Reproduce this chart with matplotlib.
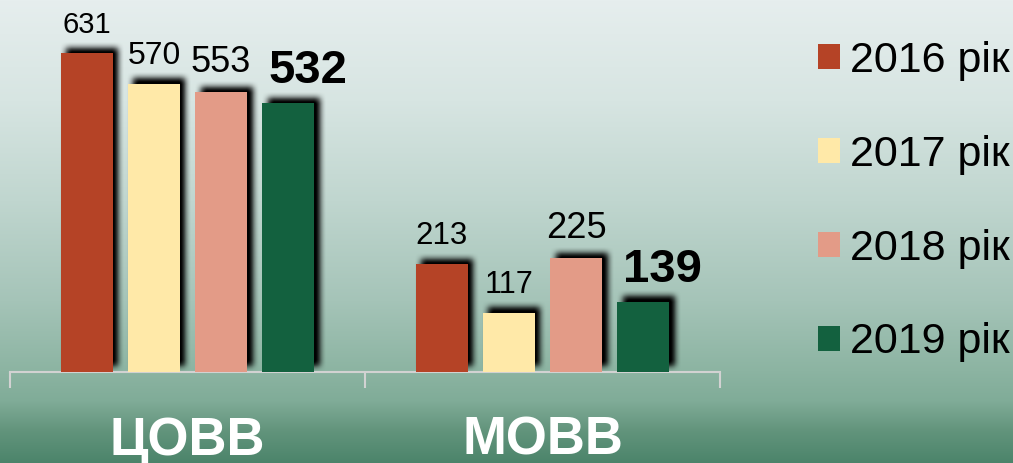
import numpy as np
import matplotlib
matplotlib.use("Agg")
import matplotlib.pyplot as plt
from matplotlib.patches import Patch

# дані
categories = ["ЦОВВ", "МОВВ"]
years = ["2016 рік", "2017 рік", "2018 рік", "2019 рік"]
v2016 = [631, 213]
v2017 = [570, 117]
v2018 = [553, 225]
v2019 = [532, 139]
colors = ["#b54326", "#ffe9a8", "#e39b87", "#13613f"]
# розмір шрифту підписів (по роках, по категоріях)
label_sizes = [[21, 22.5], [23, 22], [26, 26], [34, 34]]

plt.rcParams['font.family'] = ['Liberation Sans', 'DejaVu Sans']

W, H = 1013, 463
fig = plt.figure(figsize=(W / 100, H / 100), dpi=100)

# фон з градієнтом
ax_bg = fig.add_axes([0, 0, 1, 1], zorder=0)
stops_y = [0, 100, 200, 300, 370, 400, 430, 463]
stops_c = np.array([
    (230, 238, 238), (215, 229, 226), (192, 214, 207), (165, 196, 184),
    (140, 180, 162), (128, 172, 152), (98, 148, 124), (75, 132, 106),
]) / 255.0
rows = np.arange(H)
grad = np.stack([np.interp(rows, stops_y, stops_c[:, k]) for k in range(3)], axis=1)
grad = np.repeat(grad[:, None, :], 4, axis=1)
ax_bg.imshow(grad, extent=[0, W, 0, H], origin='upper', aspect='auto')
ax_bg.axis('off')

# основний графік
ax = fig.add_axes([10 / W, 91 / H, 710 / W, 372 / H], zorder=2)
ax.patch.set_alpha(0)
ax.set_xlim(-0.5, 1.5)
ax.set_ylim(0, 736)

x = np.arange(len(categories))
bw = 0.1465
step = 0.189
series = [v2016, v2017, v2018, v2019]
bars = []
for i, (vals, c) in enumerate(zip(series, colors)):
    b = ax.bar(x + (i - 1.5) * step, vals, bw, color=c, zorder=3)
    bars.append(b)
    bold = (i == 3)
    for rect, v, fs in zip(b, vals, label_sizes[i]):
        ax.annotate(str(v), (rect.get_x() + rect.get_width() / 2, v),
                    xytext=(14 if bold else 0, 14.4), textcoords='offset points',
                    ha='center', va='baseline', fontsize=fs,
                    fontweight='bold' if bold else 'normal')

# тінь під стовпцями
mask = np.zeros((H, W))
dx, dy = 6, 6
for b in bars:
    for rect in b:
        x0, y0 = ax.transData.transform((rect.get_x(), 0))
        x1, y1 = ax.transData.transform((rect.get_x() + rect.get_width(), rect.get_height()))
        mask[int(y0 + dy):int(y1 + dy), int(x0 + dx):int(x1 + dx)] = 1.0
kern = np.ones(7) / 7
for _ in range(2):
    mask = np.apply_along_axis(lambda r: np.convolve(r, kern, mode='same'), 1, mask)
    mask = np.apply_along_axis(lambda r: np.convolve(r, kern, mode='same'), 0, mask)
base = int(round(ax.transData.transform((0, 0))[1]))
mask[:base, :] = 0
shadow = np.zeros((H, W, 4))
shadow[..., 3] = np.clip(mask * 1.1, 0, 1)
ax_bg.imshow(shadow, extent=[0, W, 0, H], origin='lower', aspect='auto',
             interpolation='nearest')
ax_bg.set_xlim(0, W)
ax_bg.set_ylim(0, H)

# осі
for s in ['top', 'right', 'left']:
    ax.spines[s].set_visible(False)
ax.spines['bottom'].set_color('#d2d2d2')
ax.spines['bottom'].set_linewidth(1.5)
ax.set_xticks([-0.5, 0.5, 1.5])
ax.tick_params(axis='x', length=11.5, width=1.5, color='#d2d2d2', labelbottom=False)
ax.set_yticks([])

for xi, cat in zip(x, categories):
    ax.text(xi, -0.2231, cat, transform=ax.get_xaxis_transform(),
            ha='center', va='baseline', fontsize=38, fontweight='bold', color='white')

# легенда
handles = [Patch(facecolor=c) for c in colors]
fig.legend(handles, years, loc='upper left', bbox_to_anchor=(818 / W, 1 - 41 / H),
           frameon=False, fontsize=31, handlelength=0.51, handleheight=0.51,
           handletextpad=0.23, labelspacing=1.25, borderpad=0, borderaxespad=0)

fig.savefig("out.png", dpi=100)
